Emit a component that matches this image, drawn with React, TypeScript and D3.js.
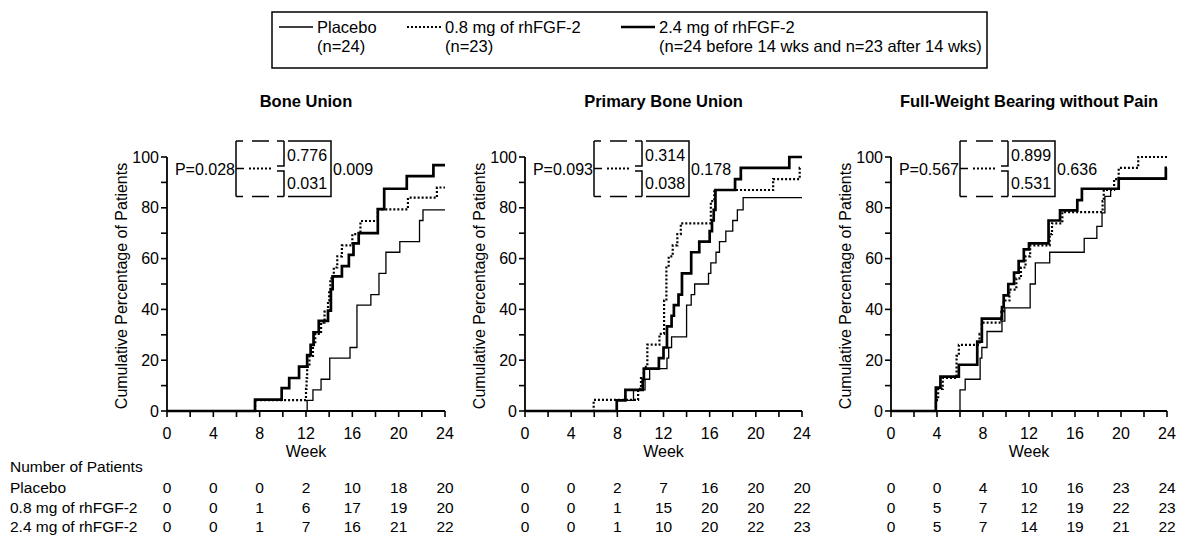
import React from 'react';
import * as d3 from 'd3';

type Pt = [number, number];

const seriesNames = ['Placebo', '0.8 mg of rhFGF-2', '2.4 mg of rhFGF-2'];
const legendSub = ['(n=24)', '(n=23)', '(n=24 before 14 wks and n=23 after 14 wks)'];
const panelTitles = ['Bone Union', 'Primary Bone Union', 'Full-Weight Bearing without Pain'];

// Kaplan-Meier style cumulative percentages [week, %]
const bonePlacebo: Pt[] = [[12.1,4.2],[12.6,8.3],[13.3,12.5],[14.05,20.8],[15.8,25],[16.4,41.7],[17.6,45.8],[18.3,54.2],[18.9,62.5],[20.1,66.7],[21.8,75],[22.1,79.2]];
const boneLow: Pt[] = [[7.6,4.3],[12.0,8.7],[12.05,13],[12.1,17.4],[12.3,21.7],[12.6,26],[12.8,30.4],[13.3,34.8],[13.6,39.1],[13.9,43.5],[14.0,47.8],[14.1,52.2],[14.4,56.5],[14.7,60.9],[15.1,65.2],[16.0,69.6],[16.7,74.8],[18.2,79.4],[20.8,84],[23.3,88]];
const boneHigh: Pt[] = [[7.6,4.5],[9.9,9],[10.55,13],[11.4,17.5],[12.1,22],[12.4,26],[12.65,31],[13.1,35.5],[13.9,39.5],[14.15,48],[14.3,53],[15.1,57],[15.7,61.5],[16.1,66],[16.55,70],[18.2,79.5],[18.75,87.5],[20.7,92.5],[23,96.8]];

const primPlacebo: Pt[] = [[7.95,4.2],[9.4,8.3],[10.4,12.5],[10.8,16.7],[12.3,20.8],[12.45,25],[12.7,29.2],[14.0,41.7],[14.4,45.8],[14.7,50],[15.9,54.2],[16.1,58.3],[16.55,62.5],[16.85,66.7],[17.4,70.8],[18.0,75],[18.4,79.2],[18.9,84]];
const primLow: Pt[] = [[5.95,4.35],[9.8,8.7],[10.05,13],[10.3,17.4],[10.6,26.1],[11.65,30.4],[12.05,43.5],[12.25,56.5],[12.45,60.9],[12.8,65.2],[13.2,69.6],[13.5,73.9],[16.1,82.6],[16.4,87],[21.5,91.3],[23.8,95.7]];
const primHigh: Pt[] = [[7.95,4.2],[8.7,8.3],[10.2,12.5],[10.3,16.7],[11.6,20.8],[12.0,25],[12.3,33.3],[12.7,37.5],[12.9,41.7],[13.3,45.8],[13.6,54.2],[14.4,62.5],[15.1,66.7],[16.0,70.8],[16.2,75],[16.35,79.2],[16.5,87],[18.2,91.3],[18.7,95.7],[22.9,100]];

const fwbPlacebo: Pt[] = [[6.0,8.3],[6.45,12.5],[7.75,20.8],[7.9,25],[8.35,31.3],[9.65,35.4],[9.9,40.6],[12.1,50],[12.55,58.3],[13.8,62.5],[16.8,68],[17.9,72.7],[18.35,78],[18.6,84.5],[19.1,87.5],[19.8,91.7]];
const fwbLow: Pt[] = [[3.9,4.3],[4.1,8.7],[4.5,13],[5.7,21.7],[5.9,26],[7.7,30.4],[7.9,34.8],[9.6,39.1],[9.8,43.5],[10.3,47.8],[10.9,52.2],[11.3,56.5],[11.7,60.9],[12.1,65.2],[13.8,69.6],[14.0,73.9],[14.9,78.3],[18.4,82.6],[18.5,87],[19.4,91.3],[19.8,95.7],[21.5,100]];
const fwbHigh: Pt[] = [[3.9,9.2],[4.3,13.5],[5.9,18.2],[7.5,27.3],[7.9,36.4],[9.65,40.9],[9.8,45.5],[10.2,50],[10.7,54.5],[11.1,59],[11.55,63.6],[12.0,66],[13.7,75],[14.7,79],[16.2,83],[16.6,87.5],[19.8,91.5],[23.9,95.7]];

const panelSeries: Pt[][][] = [
  [bonePlacebo, boneLow, boneHigh],
  [primPlacebo, primLow, primHigh],
  [fwbPlacebo, fwbLow, fwbHigh],
];

const pOverall = ['P=0.028', 'P=0.093', 'P=0.567'];
const pUpper = ['0.776', '0.314', '0.899'];
const pLower = ['0.031', '0.038', '0.531'];
const pRight = ['0.009', '0.178', '0.636'];

const xTickLabels = [0, 4, 8, 12, 16, 20, 24];
const yTickLabels = [0, 20, 40, 60, 80, 100];
const tableWeeks = [0, 4, 8, 12, 16, 20, 24];
const tableRowLabels = ['Placebo', '0.8 mg of rhFGF-2', '2.4 mg of rhFGF-2'];
const nPlacebo = [[0,0,0,2,10,18,20],[0,0,2,7,16,20,20],[0,0,4,10,16,23,24]];
const nLow = [[0,0,1,6,17,19,20],[0,0,1,15,20,20,22],[0,5,7,12,19,22,23]];
const nHigh = [[0,0,1,7,16,21,22],[0,0,1,10,20,22,23],[0,5,7,14,19,21,22]];

const FONT = 'Liberation Sans, Arial, Helvetica, sans-serif';
const seriesStyle = [
  { w: 1.3, dash: undefined as string | undefined },
  { w: 2.2, dash: '2,2' },
  { w: 2.7, dash: undefined as string | undefined },
];

const panelLeft = [167, 525, 891];
const panelWidth = [278, 277, 276];
const plotTop = 157;
const plotBottom = 411;

function Panel({ idx }: { idx: number }) {
  const x0 = panelLeft[idx];
  const x = d3.scaleLinear().domain([0, 24]).range([x0, x0 + panelWidth[idx]]);
  const y = d3.scaleLinear().domain([0, 100]).range([plotBottom, plotTop]);
  const line = d3.line<Pt>().x(d => x(d[0])).y(d => y(d[1])).curve(d3.curveStepAfter);
  const cx = (x.range()[0] + x.range()[1]) / 2;

  const xt = d3.range(0, 25, 2);
  const yt = d3.range(0, 101, 10);

  const AL = x0 + 69, AR = x0 + 117, BR = x0 + 164;
  const bt = 141, bb = 196.5, bm = 168.5;

  return (
    <g>
      <text x={cx} y={107} textAnchor="middle" fontFamily={FONT} fontWeight="bold" fontSize={16.5}>{panelTitles[idx]}</text>
      {panelSeries[idx].map((s, i) => {
        const last = s[s.length - 1];
        const pts: Pt[] = [[0, 0], ...s, [24, last[1]]];
        return (
          <path key={i} d={line(pts) || ''} fill="none" stroke="#000"
            strokeWidth={seriesStyle[i].w} strokeDasharray={seriesStyle[i].dash} />
        );
      })}
      {/* axes */}
      <line x1={x(0)} x2={x(24)} y1={y(0)} y2={y(0)} stroke="#000" strokeWidth={1.8} />
      <line x1={x(0)} x2={x(0)} y1={y(0)} y2={y(100)} stroke="#000" strokeWidth={1.8} />
      {xt.map(t => (
        <line key={'xt' + t} x1={x(t)} x2={x(t)} y1={y(0)} y2={y(0) + 6} stroke="#000" strokeWidth={1.6} />
      ))}
      {xTickLabels.map(t => (
        <text key={'xl' + t} x={x(t)} y={439} textAnchor="middle" fontFamily={FONT} fontSize={16}>{t}</text>
      ))}
      {yt.map(t => (
        <line key={'yt' + t} x1={x(0) - 6} x2={x(0)} y1={y(t)} y2={y(t)} stroke="#000" strokeWidth={1.6} />
      ))}
      {yTickLabels.map(t => (
        <text key={'yl' + t} x={x(0) - 8} y={y(t) + 5.5} textAnchor="end" fontFamily={FONT} fontSize={16}>{t}</text>
      ))}
      <text x={cx} y={457} textAnchor="middle" fontFamily={FONT} fontSize={16}>Week</text>
      <text transform={`translate(${x0 - 40},${(plotTop + plotBottom) / 2 + 2}) rotate(-90)`} textAnchor="middle"
        fontFamily={FONT} fontSize={16}>Cumulative Percentage of Patients</text>

      {/* p-value bracket diagram */}
      <g stroke="#000" strokeWidth={1.5} fill="none">
        <path d={`M${AL},${bt}V${bb}`} />
        {[bt, bb].map(yy => (
          <g key={yy}>
            <path d={`M${AL},${yy}H${AL + 7}`} />
            <path d={`M${AL + 16},${yy}H${AL + 33}`} />
            <path d={`M${AR - 7},${yy}H${AR}`} />
          </g>
        ))}
        <path d={`M${AR},${bt}V${bm - 2.5}H${AR - 7}`} />
        <path d={`M${AR},${bb}V${bm + 2.5}H${AR - 7}`} />
        <path d={`M${AL},${bm}H${AL + 8}`} />
        <path d={`M${AL + 13},${bm}H${AR - 12}`} strokeWidth={2} strokeDasharray="2,2" />
        <path d={`M${AR + 4},${bt}H${BR}V${bb}H${AR + 4}`} />
      </g>
      <text x={AL - 1} y={bm + 6} textAnchor="end" fontFamily={FONT} fontSize={16}>{pOverall[idx]}</text>
      <text x={AR + 3} y={bt + 20} fontFamily={FONT} fontSize={16}>{pUpper[idx]}</text>
      <text x={AR + 3} y={bt + 48} fontFamily={FONT} fontSize={16}>{pLower[idx]}</text>
      <text x={BR + 2} y={bm + 6} fontFamily={FONT} fontSize={16}>{pRight[idx]}</text>

      {/* numbers at risk */}
      {[nPlacebo, nLow, nHigh].map((rows, r) => (
        <g key={'row' + r}>
          {rows[idx].map((v, k) => (
            <text key={k} x={x(tableWeeks[k])} y={493 + r * 19.5} textAnchor="middle" fontFamily={FONT} fontSize={15.5}>{v}</text>
          ))}
        </g>
      ))}
    </g>
  );
}

export default function App() {
  const legendX = [279, 407, 621];
  return (
    <svg width={1179} height={538} style={{ position: 'absolute', left: 0, top: 0, background: '#fff' }}>
      <rect x={0} y={0} width={1179} height={538} fill="#fff" />
      <rect x={272} y={12} width={715} height={56} fill="none" stroke="#000" strokeWidth={1.5} />
      {seriesNames.map((n, i) => (
        <g key={n}>
          <line x1={legendX[i]} x2={legendX[i] + 34} y1={27} y2={27} stroke="#000"
            strokeWidth={seriesStyle[i].w} strokeDasharray={seriesStyle[i].dash} />
          <text x={legendX[i] + 38} y={33} fontFamily={FONT} fontSize={16.5}>{n}</text>
          <text x={legendX[i] + 38} y={52} fontFamily={FONT} fontSize={16.5}>{legendSub[i]}</text>
        </g>
      ))}
      {[0, 1, 2].map(i => <Panel key={i} idx={i} />)}
      <text x={10} y={472} fontFamily={FONT} fontSize={15.5}>Number of Patients</text>
      {tableRowLabels.map((l, r) => (
        <text key={l} x={10} y={493 + r * 19.5} fontFamily={FONT} fontSize={15.5}>{l}</text>
      ))}
    </svg>
  );
}
